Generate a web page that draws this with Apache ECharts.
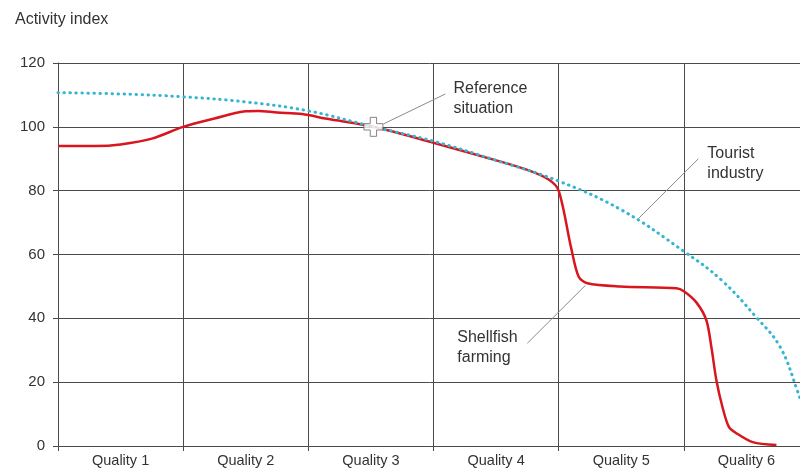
<!DOCTYPE html>
<html>
<head>
<meta charset="utf-8">
<script src="https://cdn.jsdelivr.net/npm/echarts@6/dist/echarts.min.js"></script>
<style>
html,body{margin:0;padding:0;background:#fff;}
#chart{width:800px;height:475px;}
</style>
</head>
<body>
<div id="chart"></div>
<script>
var categories = ['Quality 1','Quality 2','Quality 3','Quality 4','Quality 5','Quality 6'];
var yTicks = [0,20,40,60,80,100,120];

// Tourist industry (dotted cyan) – x in category units (0..6)
var tourX = [0, 0.5, 1, 1.5, 2, 2.52, 3, 3.5, 4, 4.5, 5, 5.3, 5.58, 5.77, 5.91, 5.96];
var tourY = [110.7, 110.3, 109.4, 107.8, 105, 100, 95.5, 89.5, 83, 74, 61, 52, 40.3, 31, 17, 11];

// Shellfish farming (red)
var shellX = [0, 0.3, 0.5, 0.75, 1.0, 1.25, 1.5, 1.6, 1.75, 1.95, 2.15, 2.52, 3.0, 3.5, 3.75, 3.92, 4.0, 4.1, 4.16, 4.23, 4.49, 4.94, 5.0, 5.1, 5.18, 5.22, 5.26, 5.31, 5.36, 5.42, 5.55, 5.74];
var shellY = [94, 94, 94.5, 96.3, 100, 102.6, 104.9, 105, 104.5, 104, 102.5, 100, 95, 89.5, 86.5, 83.5, 80, 62, 53, 51, 50, 49.4, 48.5, 45, 39.4, 31, 20.6, 12, 6, 4, 1.2, 0.3];

// Reference situation point
var refX = [2.52];
var refY = [100];

function pairs(xs, ys){ return xs.map(function(x,i){ return [x, ys[i]]; }); }

var chart = echarts.init(document.getElementById('chart'));
var font = 'Liberation Sans, Arial, sans-serif';
var gridColor = '#4a4a4a';

var option = {
  animation: false,
  title: {
    text: 'Activity index', left: 10, top: 7,
    textStyle: {fontFamily: font, fontSize: 16, fontWeight: 'normal', color: '#333'}
  },
  grid: {left: 58, width: 751, top: 63, bottom: 29, containLabel: false, outerBoundsMode: 'none'},
  xAxis: [
    {type: 'value', min: 0, max: 6, show: false},
    {type: 'category', data: categories, boundaryGap: true, position: 'bottom',
     axisLine: {show: true, lineStyle: {color: gridColor, width: 1}},
     axisTick: {show: true, length: 5, lineStyle: {color: gridColor}},
     splitLine: {show: true, lineStyle: {color: gridColor, width: 1}},
     axisLabel: {fontFamily: font, fontSize: 14.5, color: '#333', margin: 7}}
  ],
  yAxis: {
    type: 'value', min: 0, max: 120, interval: 20,
    axisLine: {show: true, lineStyle: {color: gridColor, width: 1}},
    axisTick: {show: true, length: 5, lineStyle: {color: gridColor}},
    splitLine: {show: true, lineStyle: {color: gridColor, width: 1}},
    axisLabel: {fontFamily: font, fontSize: 15, color: '#333', margin: 13,
      formatter: function(v){ return yTicks.indexOf(v) >= 0 ? String(v) : ''; }}
  },
  series: [
    {type: 'line', name: 'Tourist industry', xAxisIndex: 0, data: pairs(tourX, tourY),
     smooth: 0.4, showSymbol: false, z: 3,
     lineStyle: {color: '#34b6d3', width: 3, type: [0.5, 5.5], cap: 'round'}},
    {type: 'line', name: 'Shellfish farming', xAxisIndex: 0, data: pairs(shellX, shellY),
     smooth: 0.3, showSymbol: false, z: 2,
     lineStyle: {color: '#d9161f', width: 2.5}},
    {type: 'scatter', name: 'Reference situation', xAxisIndex: 0, data: pairs(refX, refY),
     symbol: 'path://M1,0 L2,0 L2,1 L3,1 L3,2 L2,2 L2,3 L1,3 L1,2 L0,2 L0,1 L1,1 Z',
     symbolSize: 19, z: 5,
     itemStyle: {color: '#ffffff', borderColor: '#666', borderWidth: 1}}
  ]
};
chart.setOption(option);

function px(x, y){ return chart.convertToPixel({xAxisIndex: 0, yAxisIndex: 0}, [x, y]); }
var notes = [
  {text: 'Reference\nsituation', at: [3.16, 109], from: [2.6, 100.9], to: [3.095, 110.3]},
  {text: 'Tourist\nindustry', at: [5.188, 88.6], from: [4.637, 71.25], to: [5.116, 90]},
  {text: 'Shellfish\nfarming', at: [3.19, 30.7], from: [4.213, 50.3], to: [3.75, 32.2]}
];
var g = [];
notes.forEach(function(n){
  var a = px(n.at[0], n.at[1]), f = px(n.from[0], n.from[1]), t = px(n.to[0], n.to[1]);
  g.push({type: 'line', shape: {x1: f[0], y1: f[1], x2: t[0], y2: t[1]},
          style: {stroke: '#8a8a8a', lineWidth: 1}, z: 10});
  g.push({type: 'text', x: a[0], y: a[1], z: 10,
          style: {text: n.text, fontFamily: font, fontSize: 16, fill: '#333',
                  lineHeight: 20, align: 'left', verticalAlign: 'middle'}});
});
chart.setOption({graphic: g});
</script>
</body>
</html>
